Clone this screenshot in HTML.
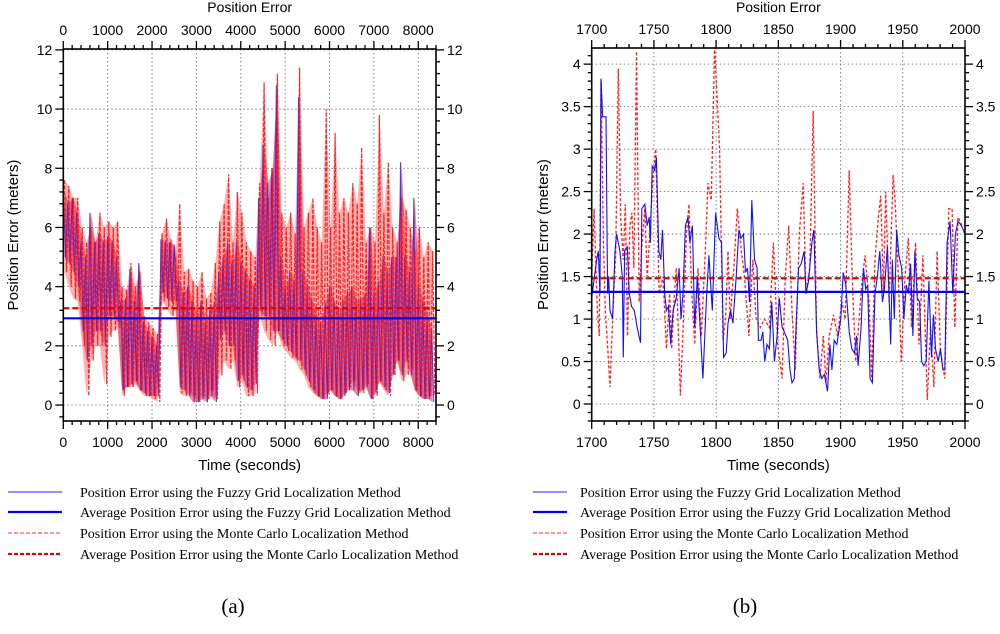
<!DOCTYPE html>
<html><head><meta charset="utf-8"><style>
html,body{margin:0;padding:0;background:#fff}
svg{display:block}
text{font-family:"Liberation Sans",sans-serif;fill:#000}
.serif{font-family:"Liberation Serif",serif}
</style></head><body>
<svg id="fig" width="1000" height="634" viewBox="0 0 1000 634" xmlns="http://www.w3.org/2000/svg"></svg>
<script>
// ---------- Chart (a) data: per-100s bins, high/low envelope ----------
const aBinStart = 0, aBinStep = 100;
const aMcHigh = [7.6,7.4,7.0,7.0,6.0,5.5,6.0,5.5,6.5,6.0,6.2,6.0,6.2,4.0,3.9,4.8,4.0,4.5,3.0,2.8,2.6,2.4,5.8,6.3,5.6,5.0,6.8,4.5,4.6,4.2,4.0,4.5,3.6,3.8,4.8,6.2,6.8,7.8,5.5,7.2,6.5,5.5,5.2,5.0,7.5,10.9,7.0,8.0,11.2,6.5,6.0,6.5,5.8,11.4,6.0,6.5,7.0,6.0,5.5,10.0,6.0,9.2,6.5,7.0,6.5,7.5,6.8,8.7,5.5,6.0,5.5,9.8,6.5,8.2,6.0,5.5,7.0,6.6,6.0,5.2,6.0,5.0,5.5,5.2];
const aMcLow = [4.5,4.0,3.6,3.5,2.0,0.3,1.5,2.0,2.0,0.7,2.3,2.5,2.6,0.3,0.6,0.6,0.7,0.5,0.3,0.3,0.2,0.1,3.5,3.3,3.0,3.2,0.4,0.3,0.4,0.3,0.1,0.3,0.2,0.5,0.2,1.0,1.5,1.2,1.5,0.6,0.8,0.3,0.3,0.4,3.0,2.5,2.2,2.0,2.5,2.0,1.8,1.6,1.5,1.2,1.0,0.6,0.4,0.3,0.2,0.4,0.5,0.3,0.2,0.4,0.6,0.8,0.5,0.4,0.7,0.2,0.3,0.8,0.5,0.3,1.0,1.5,0.8,1.0,1.2,0.5,0.3,0.2,0.3,0.3];
const aFuzzyHigh = [7.2,6.8,7.0,6.5,5.5,5.0,6.5,5.5,5.8,5.5,5.7,5.5,5.0,3.5,3.6,4.6,3.5,4.8,2.8,2.5,2.3,2.0,5.6,5.5,5.5,5.4,4.2,3.8,4.0,3.5,3.0,3.5,2.8,3.2,3.5,4.5,5.0,5.5,4.8,5.5,4.8,4.5,4.2,4.0,7.0,8.8,7.5,8.0,10.8,5.0,4.0,4.5,4.2,10.4,4.5,4.0,3.5,3.0,2.8,3.5,4.0,3.5,3.2,3.6,3.8,4.0,3.5,3.6,3.8,6.0,3.8,4.2,5.0,4.5,5.0,5.0,8.2,5.0,4.5,7.0,4.0,3.5,3.0,2.5];
const aFuzzyLow = [5.0,4.8,4.5,4.0,2.5,1.5,2.0,2.5,2.5,2.0,3.0,3.0,2.8,0.5,0.6,0.7,0.8,0.5,0.4,0.3,0.3,0.3,3.8,3.6,3.5,3.5,0.6,0.5,0.3,0.1,0.1,0.2,0.1,0.3,0.1,2.2,2.5,2.0,2.0,0.8,1.0,0.6,0.5,0.7,3.2,3.0,3.0,2.5,2.5,2.2,2.0,1.8,1.6,1.5,1.2,0.8,0.5,0.3,0.2,0.2,0.5,0.3,0.2,0.3,0.5,0.5,0.3,0.5,0.6,0.2,0.4,0.8,0.6,0.4,1.0,1.5,1.0,1.5,1.0,0.5,0.3,0.2,0.2,0.1];
const aMcAvg = 3.27, aFuzzyAvg = 2.93;
const aXTicks = [0,1000,2000,3000,4000,5000,6000,7000,8000];
const aYTicks = [0,2,4,6,8,10,12];

// ---------- Chart (b) data ----------
const bFuzzyT = [1700,1704,1705.3,1706.7,1707.5,1708.8,1711.5,1712.8,1713.6,1714.7,1716.8,1718.7,1720,1722.7,1724.6,1725.4,1726.4,1728.6,1730.2,1732,1734.2,1736.6,1739.2,1740.3,1742.7,1744.6,1746.2,1747.2,1748.6,1750.7,1752,1753.9,1755.5,1756.9,1758.7,1760,1761.7,1763.5,1765.4,1768,1770.2,1771.8,1773.4,1775.3,1777.4,1778.8,1780.9,1782.8,1784.9,1786.8,1789.4,1792.1,1794.2,1796.9,1799.6,1802.2,1804.4,1806,1808.1,1809.5,1811.6,1813.5,1816.1,1818.3,1819.9,1822,1823.6,1825.2,1826.8,1828.7,1830.8,1832.9,1834,1836.1,1837.5,1839.1,1840.9,1842.8,1844.7,1846.8,1849,1850.8,1853,1854.8,1857.5,1859.4,1861,1862.8,1864.2,1866.3,1868.4,1870.8,1872.2,1874.3,1877,1878.6,1880.7,1882.9,1885,1886.9,1889.5,1891.4,1893,1894.9,1897,1900.2,1902.1,1904.2,1906.9,1909,1911.2,1912.8,1914.1,1916.5,1918.4,1920.2,1921.8,1923.7,1925.6,1927.7,1929.6,1931.5,1933.6,1935.2,1937.6,1940.3,1941.6,1943.2,1945.1,1946.9,1949.1,1950.9,1952.8,1954.4,1956.3,1958.1,1959.7,1961.6,1963.5,1965.1,1966.9,1968.8,1971,1973.1,1974.7,1976.3,1978.4,1980.3,1982.2,1983.8,1985.6,1988,1990.2,1992.3,1994.4,1997.1,2000];
const bFuzzyV = [1.25,1.7,1.8,1.3,3.83,3.38,3.38,1.3,1.5,1.1,1.0,1.8,2.0,1.8,1.5,0.55,1.8,1.85,1.3,1.15,1.1,0.9,0.72,2.3,2.35,2.1,2.2,1.9,2.8,2.75,2.9,1.8,1.7,2.05,1.3,1.1,1.15,0.7,1.1,1.25,1.6,1.0,1.3,2.1,2.2,1.9,2.1,0.9,1.5,1.0,0.3,1.2,1.75,1.1,2.25,1.95,1.9,0.55,0.6,0.95,1.1,0.95,1.5,2.05,1.95,2.0,1.55,1.6,1.2,2.4,1.7,1.6,0.75,0.75,0.85,0.5,0.7,0.65,1.2,0.5,0.8,1.25,0.9,0.85,0.75,0.4,0.25,0.3,0.9,1.6,1.65,1.8,1.3,1.45,1.9,2.05,0.85,0.4,0.3,0.35,0.15,0.7,0.4,0.75,0.7,1.0,1.55,1.4,0.85,0.65,0.6,0.8,0.45,0.9,1.6,1.35,1.4,0.3,0.25,1.3,1.5,1.8,1.2,1.35,1.85,0.7,1.7,1.0,2.05,1.75,1.6,1.0,1.4,1.3,1.65,0.8,1.8,1.25,1.2,0.5,0.45,0.5,1.45,0.55,1.05,0.65,0.5,0.65,0.4,0.4,1.9,2.15,1.3,2.0,2.15,2.1,2.0];
const bMcT = [1700,1701.9,1704.5,1706.1,1707.5,1709.3,1710.9,1713.1,1714.7,1716.8,1719.4,1721.4,1723.2,1725.4,1727,1728.8,1730.7,1732.3,1733.9,1736,1738.2,1740,1742.7,1744.6,1746.7,1749.4,1751.5,1754.2,1757.4,1760,1762.7,1764.3,1766.5,1768,1771.3,1774,1776.1,1778.2,1780.1,1782.8,1785.4,1788.1,1791.6,1793.4,1796.1,1798.8,1802.8,1805.5,1807.6,1809.5,1811.3,1814,1817,1820.2,1822.8,1826.3,1829.5,1832.1,1835.6,1838.8,1842.8,1846,1849.5,1853,1855.6,1858.3,1861,1863.6,1866.8,1870,1872.2,1875.3,1878,1880.7,1883.4,1886.1,1888.2,1890.9,1894.4,1897.5,1901,1903.7,1906.9,1909.6,1912.2,1914.4,1917,1919.7,1922.9,1925,1927.7,1930.4,1932.3,1934.4,1936.3,1939,1942.2,1943.8,1946.4,1948.8,1951.8,1954.4,1957.1,1960.3,1963,1966.2,1969.7,1972.3,1975,1977.6,1980.3,1983.8,1987,1989.6,1991.8,1994.4,1997.6,2000];
const bMcV = [1.5,2.3,1.1,0.8,3.8,2.0,1.1,0.6,0.2,1.0,1.8,3.95,2.2,1.7,2.35,0.8,2.1,2.25,1.6,4.15,1.2,1.8,2.3,1.5,2.0,2.7,3.0,1.3,1.5,0.65,1.3,0.65,1.3,1.6,0.1,1.1,2.0,2.35,1.4,0.7,1.6,0.8,1.9,2.6,2.4,4.2,3.0,0.75,1.0,1.8,1.0,1.55,2.3,1.8,1.5,0.8,1.7,1.0,0.9,1.0,0.9,1.9,0.7,0.3,1.5,2.1,1.1,0.4,2.0,2.6,1.3,1.6,3.45,0.85,0.3,0.8,0.25,0.8,1.05,0.8,1.2,1.0,2.75,1.4,0.5,0.9,1.4,1.75,1.2,0.3,1.7,2.2,2.45,1.3,2.5,1.2,2.7,2.4,1.5,0.5,1.5,1.95,0.9,1.9,0.7,1.75,0.05,0.9,0.2,1.8,0.6,0.3,2.3,2.3,0.9,2.2,2.1,2.1];
const bMcAvg = 1.48, bFuzzyAvg = 1.32;
const bXTicks = [1700,1750,1800,1850,1900,1950,2000];
const bYTicks = [0,0.5,1,1.5,2,2.5,3,3.5,4];

const NS = "http://www.w3.org/2000/svg";
const svg = document.getElementById('fig');
function mk(tag, attrs, parent){ const e=document.createElementNS(NS,tag); for(const k in attrs) e.setAttribute(k,attrs[k]); (parent||svg).appendChild(e); return e; }
function fmt(v){ return String(Math.round(v*100)/100); }

function drawChart(c){
  const g = mk('g',{});
  
  
  const sx = v => c.L + (v - c.x0)/(c.x1 - c.x0)*(c.R - c.L);
  const sy = v => c.B - (v - c.y0)/(c.y1 - c.y0)*(c.B - c.T);
  const grid = mk('g',{},g);
  
  
  c.xTicks.forEach(v=>{ mk('line',{x1:sx(v),x2:sx(v),y1:c.T,y2:c.B,stroke:'#666','stroke-width':0.8,'stroke-dasharray':'1.5,2.5'},grid); });
  c.yTicks.forEach(v=>{ mk('line',{x1:c.L,x2:c.R,y1:sy(v),y2:sy(v),stroke:'#666','stroke-width':0.8,'stroke-dasharray':'1.5,2.5'},grid); });
  return {g,sx,sy};
}
function drawFrame(c, ctx){
  const {g,sx,sy} = ctx;
  mk('rect',{x:c.L,y:c.T,width:c.R-c.L,height:c.B-c.T,fill:'none',stroke:'#000','stroke-width':1.6},g);
  const tk = mk('g',{stroke:'#000','stroke-width':1.3},g);
  
  
  for(let v=c.x0; v<=c.x1+1e-9; v+=c.xMinor){
    const major = c.xTicks.some(t=>Math.abs(t-v)<1e-6); const len = major?8:4; const x=sx(v);
    mk('line',{x1:x,x2:x,y1:c.T,y2:c.T-len},tk); mk('line',{x1:x,x2:x,y1:c.B,y2:c.B+len},tk);
  }
  for(let v=c.yMinorStart; v<=c.y1+1e-9; v+=c.yMinor){
    const major = c.yTicks.some(t=>Math.abs(t-v)<1e-6); const len = major?8:4; const y=sy(v);
    mk('line',{x1:c.L,x2:c.L-len,y1:y,y2:y},tk); mk('line',{x1:c.R,x2:c.R+len,y1:y,y2:y},tk);
  }
  c.xTicks.forEach(v=>{
    let t=mk('text',{x:sx(v),y:c.T-14,'text-anchor':'middle','font-size':14},g); t.textContent=fmt(v);
    
    
    t=mk('text',{x:sx(v),y:c.B+26,'text-anchor':'middle','font-size':14},g); t.textContent=fmt(v);
    
    
  });
  c.yTicks.forEach(v=>{
    let t=mk('text',{x:c.L-11,y:sy(v)+5,'text-anchor':'end','font-size':14},g); t.textContent=fmt(v);
    
    
    t=mk('text',{x:c.R+11,y:sy(v)+5,'text-anchor':'start','font-size':14},g); t.textContent=fmt(v);
    
    
  });
  const cx=(c.L+c.R)/2;
  let t=mk('text',{x:cx,y:12,'text-anchor':'middle','font-size':14},g); t.textContent='Position Error';
  
  
  t=mk('text',{x:cx,y:c.B+49,'text-anchor':'middle','font-size':15},g); t.textContent='Time (seconds)';
  
  
  t=mk('text',{x:c.ytX,y:(c.T+c.B)/2,'text-anchor':'middle','font-size':15,transform:`rotate(-90 ${c.ytX} ${(c.T+c.B)/2})`},g); t.textContent='Position Error (meters)';
  
  
}
function envPath(sx,sy,start,step,hi,lo){
  let d='';
  for(let i=0;i<hi.length;i++){
    const t=start+i*step;
    d+=(i?'L':'M')+sx(t).toFixed(1)+','+sy(hi[i]).toFixed(1);
    d+='L'+sx(t+step/2).toFixed(1)+','+sy(lo[i]).toFixed(1);
  }
  return d;
}
function bandPath(sx,sy,start,step,hi,lo){
  let d='';
  for(let i=0;i<hi.length;i++){ const t=start+i*step+step/4; d+=(i?'L':'M')+sx(t).toFixed(1)+','+sy(hi[i]).toFixed(1); }
  for(let i=lo.length-1;i>=0;i--){ const t=start+i*step+step/4; d+='L'+sx(t).toFixed(1)+','+sy(lo[i]).toFixed(1); }
  return d+'Z';
}
function seriesPath(sx,sy,ts,vs){ return ts.map((t,i)=>(i?'L':'M')+sx(t).toFixed(1)+','+sy(vs[i]).toFixed(1)).join(''); }

// chart a
const ca={name:'chart-a',L:63.3,R:436,T:49,B:421,x0:0,x1:8400,y0:-0.54,y1:12.03,xTicks:aXTicks,yTicks:aYTicks,xMinor:200,yMinor:0.4,yMinorStart:-0.4,ytX:18};
const A=drawChart(ca);
let p=mk('path',{d:bandPath(A.sx,A.sy,aBinStart,aBinStep,aMcHigh,aMcLow),fill:'#ff5050','fill-opacity':0.45,stroke:'none'},A.g);


p=mk('path',{d:bandPath(A.sx,A.sy,aBinStart,aBinStep,aFuzzyHigh,aFuzzyLow),fill:'#ee2030','fill-opacity':0.55,stroke:'none'},A.g);


p=mk('path',{d:envPath(A.sx,A.sy,aBinStart,aBinStep,aFuzzyHigh,aFuzzyLow),fill:'none',stroke:'#2020ff','stroke-width':1,'stroke-opacity':0.85},A.g);


p=mk('path',{d:envPath(A.sx,A.sy,aBinStart+aBinStep/4,aBinStep,aMcHigh,aMcLow),fill:'none',stroke:'#ff1010','stroke-width':1.2,'stroke-dasharray':'4,1.5','stroke-opacity':0.9},A.g);


p=mk('line',{x1:ca.L,x2:ca.R,y1:A.sy(aMcAvg),y2:A.sy(aMcAvg),stroke:'#e00000','stroke-width':2.2,'stroke-dasharray':'6,3'},A.g);


p=mk('line',{x1:ca.L,x2:ca.R,y1:A.sy(aFuzzyAvg),y2:A.sy(aFuzzyAvg),stroke:'#0000ee','stroke-width':2.2},A.g);


drawFrame(ca,A);

// chart b
const cb={name:'chart-b',L:591.7,R:965,T:48,B:421,x0:1700,x1:2000,y0:-0.2,y1:4.19,xTicks:bXTicks,yTicks:bYTicks,xMinor:10,yMinor:0.1,yMinorStart:-0.2,ytX:548};
const B=drawChart(cb);
p=mk('path',{d:seriesPath(B.sx,B.sy,bMcT,bMcV),fill:'none',stroke:'#ff2020','stroke-width':1.3,'stroke-dasharray':'3,2'},B.g);


p=mk('path',{d:seriesPath(B.sx,B.sy,bFuzzyT,bFuzzyV),fill:'none',stroke:'#1010ff','stroke-width':1.1},B.g);


p=mk('line',{x1:cb.L,x2:cb.R,y1:B.sy(bMcAvg),y2:B.sy(bMcAvg),stroke:'#e00000','stroke-width':2.2,'stroke-dasharray':'6,3'},B.g);


p=mk('line',{x1:cb.L,x2:cb.R,y1:B.sy(bFuzzyAvg),y2:B.sy(bFuzzyAvg),stroke:'#0000ee','stroke-width':2.2},B.g);


drawFrame(cb,B);

// legends
const legLabels=['Position Error using the Fuzzy Grid Localization Method','Average Position Error using the Fuzzy Grid Localization Method','Position Error using the Monte Carlo Localization Method','Average Position Error using the Monte Carlo Localization Method'];
const legStyles=[{stroke:'#2020ff',w:1,dash:''},{stroke:'#0000ee',w:2.2,dash:''},{stroke:'#ff3030',w:1,dash:'4,2'},{stroke:'#e00000',w:2.2,dash:'4,2'}];
const legYs=[492,512,533,554];
[[8,62,80,'legend-a'],[533,567,580,'legend-b']].forEach(([x1,x2,tx,nm])=>{
  const lg=mk('g',{});
  
  
  legLabels.forEach((lab,i)=>{
    const s=legStyles[i];
    const ln=mk('line',{x1:x1,x2:x2,y1:legYs[i],y2:legYs[i],stroke:s.stroke,'stroke-width':s.w,'stroke-dasharray':s.dash},lg);
    
    
    const t=mk('text',{x:tx,y:legYs[i]+5,'font-size':14,class:'serif'},lg);
    t.textContent=lab;
    
    
  });
});
let t=mk('text',{x:233,y:613,'text-anchor':'middle','font-size':21,class:'serif'}); t.textContent='(a)';


t=mk('text',{x:745,y:613,'text-anchor':'middle','font-size':21,class:'serif'}); t.textContent='(b)';


</script>
</body></html>
